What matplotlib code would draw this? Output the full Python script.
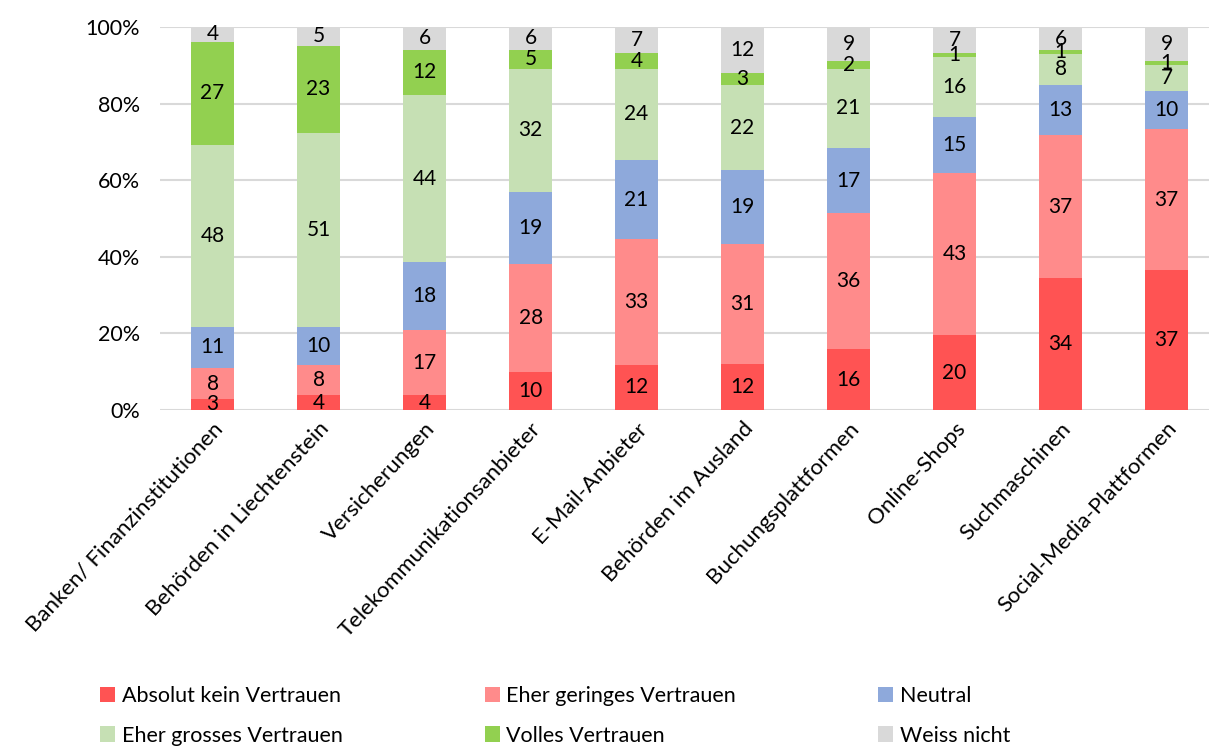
import numpy as np
import matplotlib.pyplot as plt

plt.rcParams['font.family'] = ['Lato', 'DejaVu Sans']

categories = ['Banken/ Finanzinstitutionen', 'Behörden in Liechtenstein', 'Versicherungen',
              'Telekommunikationsanbieter', 'E-Mail-Anbieter', 'Behörden im Ausland',
              'Buchungsplattformen', 'Online-Shops', 'Suchmaschinen', 'Social-Media-Plattformen']
series = ['Absolut kein Vertrauen', 'Eher geringes Vertrauen', 'Neutral',
          'Eher grosses Vertrauen', 'Volles Vertrauen', 'Weiss nicht']
absolut = [3, 4, 4, 10, 12, 12, 16, 20, 34, 37]
gering = [8, 8, 17, 28, 33, 31, 36, 43, 37, 37]
neutral = [11, 10, 18, 19, 21, 19, 17, 15, 13, 10]
gross = [48, 51, 44, 32, 24, 22, 21, 16, 8, 7]
voll = [27, 23, 12, 5, 4, 3, 2, 1, 1, 1]
weiss = [4, 5, 6, 6, 7, 12, 9, 7, 6, 9]
colors = ['#FF5353', '#FF8B8B', '#8EA9DB', '#C6E0B4', '#92D050', '#D9D9D9']

values = np.array([absolut, gering, neutral, gross, voll, weiss], dtype=float)
shares = values / values.sum(axis=0) * 100

fig = plt.figure(figsize=(12.09, 7.47), dpi=100)
ax = fig.add_axes([0.132, 0.451, 0.868, 0.513])
x = np.arange(len(categories))
bottom = np.zeros(len(categories))
handles = []
for i, name in enumerate(series):
    bars = ax.bar(x, shares[i], 0.4, bottom=bottom, color=colors[i], label=name, zorder=2)
    handles.append(bars)
    for j in range(len(categories)):
        ax.text(x[j], bottom[j] + shares[i][j] / 2, f'{int(values[i][j])}',
                ha='center', va='center', fontsize=15, color='black', zorder=3)
    bottom += shares[i]

ax.set_ylim(0, 100)
ax.set_xlim(-0.5, 9.4)
ax.set_yticks(range(0, 101, 20))
ax.set_yticklabels([f'{v}%' for v in range(0, 101, 20)], fontsize=15.5)
ax.set_xticks(x)
ax.set_xticklabels(categories, rotation=47, ha='right', rotation_mode='anchor', fontsize=16)
ax.tick_params(axis='x', length=0, pad=6)
ax.tick_params(axis='y', length=0, pad=14)
ax.yaxis.grid(True, color='#D9D9D9', linewidth=1.5, zorder=0)
for s in ax.spines.values():
    s.set_visible(False)

order = [0, 3, 1, 4, 2, 5]
fig.legend([handles[k] for k in order], [series[k] for k in order], ncol=3,
           loc='lower left', bbox_to_anchor=(0.067, -0.024), frameon=False, fontsize=15.5,
           handlelength=0.7, handleheight=0.7, handletextpad=0.3, columnspacing=6.6,
           labelspacing=0.9)

fig.savefig('out.png', dpi=100)
